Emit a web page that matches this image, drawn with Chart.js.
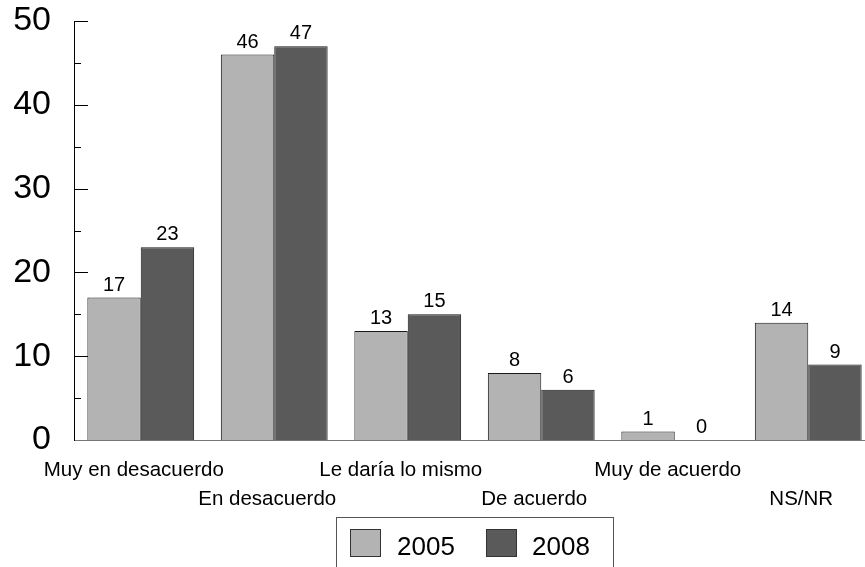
<!DOCTYPE html>
<html><head><meta charset="utf-8">
<script src="https://cdn.jsdelivr.net/npm/chart.js@4/dist/chart.umd.min.js"></script>
<style>
html,body{margin:0;padding:0;background:#fff;overflow:hidden;width:865px;height:567px;}
#wrap{position:absolute;left:0;top:0;width:875px;height:567px;}
#legend{position:absolute;left:336px;top:517px;width:278px;height:70px;border:1px solid #555;box-sizing:border-box;}
.sw{position:absolute;width:31px;height:28px;box-sizing:border-box;border:1px solid #333;}
.lt{position:absolute;font-family:"Liberation Sans",Arial,sans-serif;font-size:26px;line-height:26px;color:#000;white-space:nowrap;}
</style></head>
<body>
<div id="wrap"><canvas id="c" width="875" height="567"></canvas></div>
<div id="leg"></div>
<script>
const categories = ['Muy en desacuerdo','En desacuerdo','Le daría lo mismo','De acuerdo','Muy de acuerdo','NS/NR'];
const seriesNames = ['2005','2008'];
const values2005 = [17,46,13,8,1,14];
const values2008 = [23,47,15,6,0,9];
const yTickValues = [0,10,20,30,40,50];
const seriesColors = ['#b3b3b3','#5a5a5a'];

const FONT = '"Liberation Sans", Arial, sans-serif';
const TARGET_TOP = 21;

const tickMarks = {
  id:'tickMarks',
  afterDraw(chart){
    const y = chart.scales.y, ctx = chart.ctx, left = chart.chartArea.left;
    ctx.save();
    ctx.strokeStyle = '#000'; ctx.lineWidth = 1;
    for (let v = 5; v <= 50; v += 5){
      const py = Math.round(y.getPixelForValue(v)) + 0.5;
      const len = (v % 10 === 0) ? 14 : 7;
      ctx.beginPath(); ctx.moveTo(left, py); ctx.lineTo(left + len, py); ctx.stroke();
    }
    ctx.restore();
  }
};
const dataLabels = {
  id:'dataLabels',
  afterDatasetsDraw(chart){
    const ctx = chart.ctx;
    ctx.save();
    ctx.font = '20px ' + FONT; ctx.fillStyle = '#000';
    ctx.textAlign = 'center'; ctx.textBaseline = 'alphabetic';
    chart.data.datasets.forEach((ds, di) => {
      chart.getDatasetMeta(di).data.forEach((el, i) => {
        ctx.fillText(String(ds.data[i]), el.x, el.y - 7);
      });
    });
    ctx.restore();
  }
};

const chart = new Chart(document.getElementById('c'), {
  type:'bar',
  data:{
    labels: categories,
    datasets:[
      {label:seriesNames[0], data:values2005, backgroundColor:seriesColors[0], borderColor:'#1a1a1a', borderWidth:1, categoryPercentage:0.8, barPercentage:1.0},
      {label:seriesNames[1], data:values2008, backgroundColor:seriesColors[1], borderColor:'#1a1a1a', borderWidth:1, categoryPercentage:0.8, barPercentage:1.0}
    ]
  },
  options:{
    responsive:false, animation:false, devicePixelRatio:1,
    layout:{padding:{top:TARGET_TOP,left:0,right:0,bottom:0}},
    plugins:{legend:{display:false}, tooltip:{enabled:false}},
    scales:{
      x:{
        grid:{display:false, drawTicks:false},
        border:{display:true, color:'#777', width:1},
        ticks:{
          font:{family:FONT, size:20.5, lineHeight:1.45}, color:'#000', padding:15, labelOffset:-7,
          maxRotation:0, autoSkip:false,
          callback:function(v, i){ const l = categories[i]; return i % 2 === 0 ? [l] : ['', l]; }
        },
        afterFit(s){ s.height = 127; s.paddingLeft = 0; s.paddingRight = 0; }
      },
      y:{
        min:0, max:50,
        afterBuildTicks(s){ s.ticks = yTickValues.map(v => ({value:v})); },
        grid:{display:false, drawTicks:false},
        border:{display:true, color:'#000', width:1},
        ticks:{font:{family:FONT, size:34}, color:'#000', padding:23},
        afterFit(s){ s.width = 74; s.paddingTop = 0; s.paddingBottom = 0; }
      }
    }
  },
  plugins:[tickMarks, dataLabels]
});
const dt = chart.chartArea.top - TARGET_TOP;
if (Math.abs(dt) > 0.1) {
  chart.options.layout.padding.top = TARGET_TOP - dt;
  chart.update();
}

// legend
const leg = document.getElementById('leg');
const box = document.createElement('div'); box.id = 'legend'; leg.appendChild(box);
const swX = [350, 486], txX = [397, 532];
seriesNames.forEach((n, i) => {
  const s = document.createElement('div'); s.className = 'sw';
  s.style.left = swX[i] + 'px'; s.style.top = '529px'; s.style.background = seriesColors[i];
  leg.appendChild(s);
  const t = document.createElement('div'); t.className = 'lt';
  t.style.left = txX[i] + 'px'; t.style.top = '533px'; t.textContent = n;
  leg.appendChild(t);
});
</script>
</body></html>
